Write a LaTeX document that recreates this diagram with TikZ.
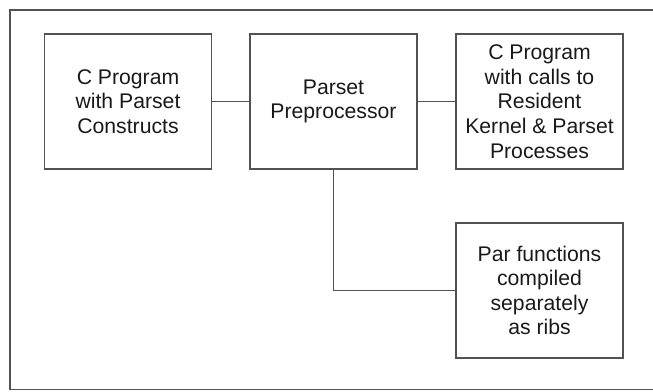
\documentclass[tikz,border=0pt]{standalone}
\usepackage{fontspec}
\setmainfont{Liberation Sans}
\begin{document}
\begin{tikzpicture}[x=1pt,y=-1pt,
  line/.style={draw=black!68,line width=1.5pt},
  block/.style={line,rectangle,minimum width=167pt,minimum height=135pt,
    align=center,inner sep=0pt,text=black!90,
    font=\fontsize{21.2}{24.6}\selectfont},
]
\useasboundingbox (0,0) rectangle (653,391);
% outer frame (runs off the right side)
\draw[line] (660,10) -- (10,10) -- (10,389.5) -- (660,389.5);
% blocks
\node[block] (src)  at (128,101.5) {C Program\\with Parset\\Constructs};
\node[block] (pre)  at (333.5,101.5) {Parset\\Preprocessor};
\node[block] (out)  at (539.5,101.5) {C Program\\with calls to\\Resident\\Kernel \& Parset\\Processes};
\node[block] (ribs) at (539.5,290.5) {Par functions\\compiled\\separately\\as ribs};
% connectors
\draw[line] (src) -- (pre);
\draw[line] (pre) -- (out);
\draw[line] (pre.south) |- (ribs.west);
\end{tikzpicture}
\end{document}
